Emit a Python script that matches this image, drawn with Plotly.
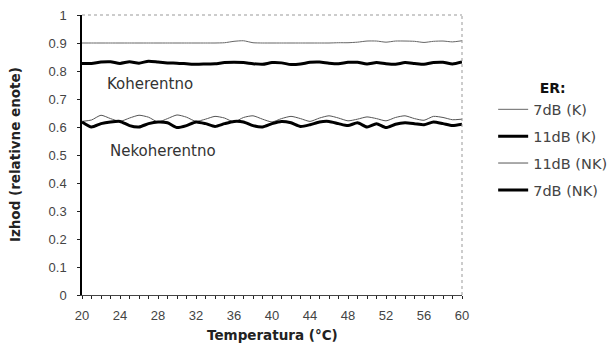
import plotly.graph_objects as go

# Temperature sweep, 1 °C steps
temperatura = list(range(20, 61))

# Coherent detection
k_7db = [0.900, 0.900, 0.900, 0.900, 0.900, 0.900, 0.900, 0.900, 0.900, 0.900,
         0.900, 0.900, 0.900, 0.900, 0.900, 0.901, 0.906, 0.908, 0.901, 0.900,
         0.900, 0.900, 0.900, 0.900, 0.900, 0.900, 0.900, 0.901, 0.901, 0.903,
         0.907, 0.907, 0.903, 0.907, 0.907, 0.906, 0.902, 0.906, 0.907, 0.904,
         0.908]
k_11db = [0.827, 0.827, 0.832, 0.833, 0.827, 0.833, 0.828, 0.835, 0.832, 0.829,
          0.828, 0.826, 0.824, 0.825, 0.826, 0.830, 0.831, 0.830, 0.826, 0.824,
          0.830, 0.829, 0.823, 0.825, 0.831, 0.832, 0.828, 0.826, 0.831, 0.831,
          0.825, 0.830, 0.826, 0.824, 0.830, 0.827, 0.824, 0.830, 0.831, 0.825,
          0.832]

# Non-coherent detection
nk_11db = [0.620, 0.625, 0.642, 0.630, 0.620, 0.632, 0.642, 0.635, 0.618, 0.630,
           0.643, 0.635, 0.620, 0.628, 0.638, 0.632, 0.618, 0.634, 0.640, 0.628,
           0.618, 0.630, 0.638, 0.630, 0.620, 0.632, 0.640, 0.632, 0.622, 0.628,
           0.636, 0.630, 0.622, 0.634, 0.640, 0.630, 0.624, 0.638, 0.634, 0.626,
           0.628]
nk_7db = [0.618, 0.600, 0.612, 0.618, 0.620, 0.605, 0.600, 0.612, 0.618, 0.615,
          0.598, 0.605, 0.618, 0.612, 0.602, 0.612, 0.620, 0.618, 0.605, 0.600,
          0.612, 0.620, 0.615, 0.602, 0.608, 0.618, 0.620, 0.612, 0.605, 0.615,
          0.600, 0.612, 0.598, 0.610, 0.615, 0.612, 0.608, 0.618, 0.612, 0.605,
          0.610]

series_names = ["7dB (K)", "11dB (K)", "11dB (NK)", "7dB (NK)"]
x_tick_labels = [str(v) for v in range(20, 61, 4)]

WIDE = "DejaVu Sans, Verdana, sans-serif"
TICKS = "Liberation Sans, Arial, sans-serif"

fig = go.Figure()
styles = [("#666666", 1), ("#000000", 3), ("#555555", 1), ("#000000", 3)]
for i, (name, ys) in enumerate(zip(series_names, [k_7db, k_11db, nk_11db, nk_7db])):
    color, width = styles[i]
    fig.add_trace(go.Scatter(
        x=temperatura, y=ys, mode="lines", name=name,
        line=dict(color=color, width=width, shape="spline", smoothing=0.6),
        legendgroup=name,
    ))

# Region labels
fig.add_annotation(x=27.2, y=0.752, text="Koherentno", showarrow=False,
                   font=dict(family=WIDE, size=15, color="#333"))
fig.add_annotation(x=28.5, y=0.515, text="Nekoherentno", showarrow=False,
                   font=dict(family=WIDE, size=15, color="#333"))

# Axis titles
fig.add_annotation(x=0.5, y=-0.143, xref="paper", yref="paper",
                   xanchor="center", yanchor="middle",
                   text="<b>Temperatura (°C)</b>", showarrow=False,
                   font=dict(family=WIDE, size=13.5, color="#222"))
fig.add_annotation(x=-0.176, y=0.5, xref="paper", yref="paper", textangle=-90,
                   xanchor="center", yanchor="middle",
                   text="<b>Izhod (relativne enote)</b>", showarrow=False,
                   font=dict(family=WIDE, size=13.5, color="#222"))

# Dotted top and right frame
fig.add_shape(type="line", xref="paper", yref="paper", x0=0, x1=1, y0=1, y1=1,
              line=dict(color="#999", width=1, dash="dot"))
fig.add_shape(type="line", xref="paper", yref="paper", x0=1, x1=1, y0=0, y1=1,
              line=dict(color="#999", width=1, dash="dot"))

tick_font = dict(family=TICKS, size=13, color="#444")
fig.update_layout(
    width=612, height=347,
    margin=dict(l=82, r=150, t=15, b=52, autoexpand=False),
    paper_bgcolor="white", plot_bgcolor="white",
    showlegend=True,
    legend=dict(
        x=1.082, y=0.785, xanchor="left", yanchor="top",
        title=dict(text="<b>ER:</b>", side="top center",
                   font=dict(family=WIDE, size=14, color="#111")),
        font=dict(family=WIDE, size=14.5, color="#444"),
        tracegroupgap=5, itemwidth=30,
        bgcolor="rgba(0,0,0,0)",
    ),
    xaxis=dict(
        range=[20, 60], showgrid=False, zeroline=False, automargin=False,
        showline=True, linecolor="#444", linewidth=1,
        tickmode="array", tickvals=list(range(20, 61, 4)), ticktext=x_tick_labels,
        ticks="outside", ticklen=3, tickcolor="#222",
        minor=dict(dtick=1, ticks="outside", ticklen=3, tickcolor="#222"),
        tickfont=tick_font, ticklabelstandoff=5,
    ),
    yaxis=dict(
        range=[0, 1], showgrid=False, zeroline=False, automargin=False,
        showline=True, linecolor="#000", linewidth=1.5,
        dtick=0.1, ticks="outside", ticklen=3, tickcolor="#222",
        tickfont=tick_font, ticklabelstandoff=8,
    ),
    xaxis2=dict(
        range=[20, 60], overlaying="x", anchor="y", showgrid=False,
        zeroline=False, showticklabels=False, dtick=1, automargin=False,
        ticks="inside", ticklen=3, tickcolor="#222", side="bottom",
    ),
    yaxis2=dict(
        range=[0, 1], overlaying="y", anchor="x", showgrid=False,
        zeroline=False, showticklabels=False, dtick=0.1, automargin=False,
        ticks="inside", ticklen=3, tickcolor="#222", side="left",
    ),
)

fig.write_html("out.html")
